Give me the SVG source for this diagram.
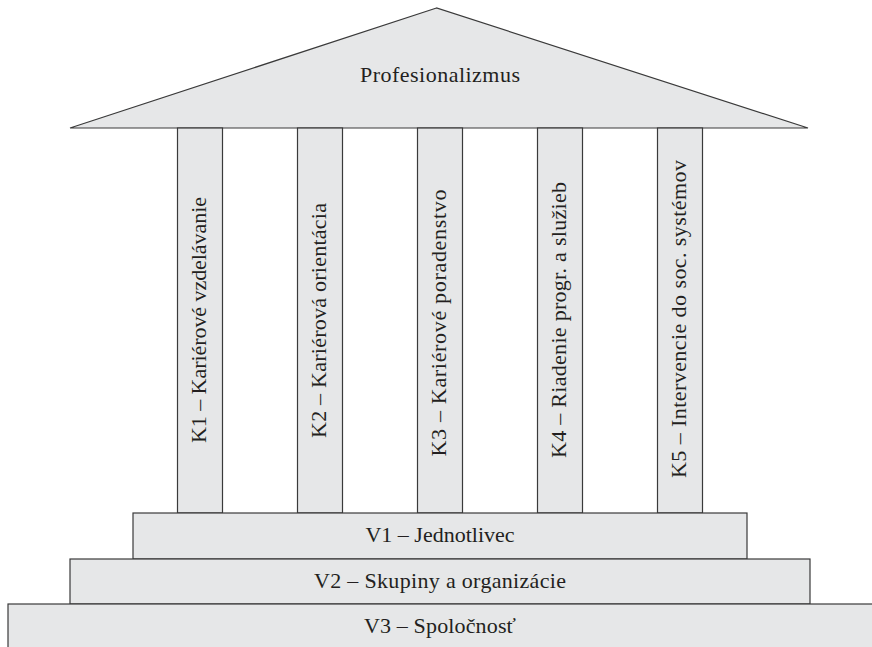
<svg xmlns="http://www.w3.org/2000/svg" width="872" height="647" viewBox="0 0 872 647">
<style>
.sh{fill:#e6e7e8;stroke:#3a3a3a;stroke-width:1.2}
.t{font-family:"Liberation Serif","DejaVu Serif",serif;font-size:22px;fill:#231f20;text-anchor:middle}
</style>
<rect width="872" height="647" fill="#ffffff"/>
<g id="roof">
<polygon class="sh" points="436.5,8 70,128 808,128"/>
<text class="t" x="440" y="82" textLength="160">Profesionalizmus</text>
</g>
<g id="K1">
<rect class="sh" x="177.5" y="128" width="45" height="385"/>
<text class="t" transform="translate(206,320) rotate(-90)" textLength="246">K1 – Kariérové vzdelávanie</text>
</g>
<g id="K2">
<rect class="sh" x="297.5" y="128" width="45" height="385"/>
<text class="t" transform="translate(326,320.5) rotate(-90)" textLength="235">K2 – Kariérová orientácia</text>
</g>
<g id="K3">
<rect class="sh" x="417.5" y="128" width="45" height="385"/>
<text class="t" transform="translate(446,323) rotate(-90)" textLength="267">K3 – Kariérové poradenstvo</text>
</g>
<g id="K4">
<rect class="sh" x="537.5" y="128" width="45" height="385"/>
<text class="t" transform="translate(566,320) rotate(-90)" textLength="276">K4 – Riadenie progr. a služieb</text>
</g>
<g id="K5">
<rect class="sh" x="657.5" y="128" width="45" height="385"/>
<text class="t" transform="translate(686,319) rotate(-90)" textLength="318">K5 – Intervencie do soc. systémov</text>
</g>
<g id="V1">
<rect class="sh" x="133" y="513" width="614" height="46"/>
<text class="t" x="440" y="542">V1 – Jednotlivec</text>
</g>
<g id="V2">
<rect class="sh" x="70" y="559" width="740" height="45"/>
<text class="t" x="440" y="588" textLength="252">V2 – Skupiny a organizácie</text>
</g>
<g id="V3">
<rect class="sh" x="8" y="604" width="880" height="60"/>
<text class="t" x="440" y="633" textLength="152">V3 – Spoločnosť</text>
</g>
<g id="connectors"></g>
</svg>
